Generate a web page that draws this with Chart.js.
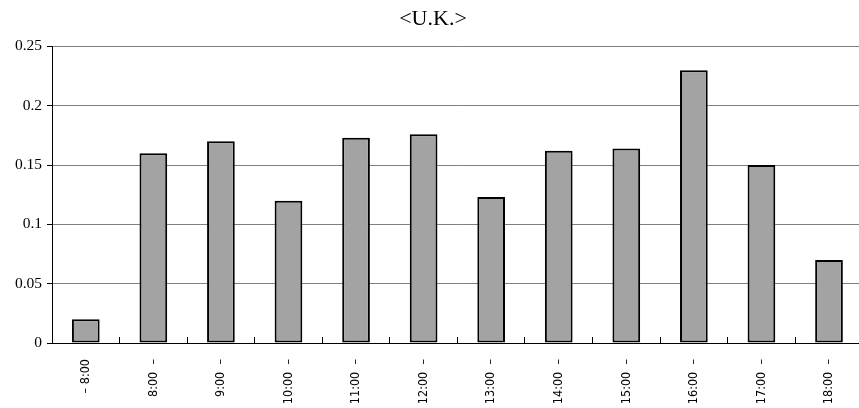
<!DOCTYPE html>
<html>
<head>
<meta charset="utf-8">
<script src="https://cdn.jsdelivr.net/npm/chart.js@4/dist/chart.umd.min.js"></script>
<style>
  html, body { margin: 0; padding: 0; background: #fff; }
  /* plot runs slightly past the right edge, so the frame clips it */
  .chart-container { position: relative; width: 859px; height: 408px; overflow: hidden; }
  .chart-container canvas { display: block; }
</style>
</head>
<body>
<div class="chart-container">
  <canvas id="chart" width="866" height="408"></canvas>
</div>
<script>
const hourLabels = ["\u2013 8:00", "8:00 \u00a0\u2013", "9:00 \u00a0\u2013", "10:00 \u00a0\u2013", "11:00 \u00a0\u2013", "12:00 \u00a0\u2013",
  "13:00 \u00a0\u2013", "14:00 \u00a0\u2013", "15:00 \u00a0\u2013", "16:00 \u00a0\u2013", "17:00 \u00a0\u2013", "18:00 \u00a0\u2013"];
const shareValues = [0.02, 0.16, 0.17, 0.12, 0.173, 0.176, 0.123, 0.162, 0.164, 0.23, 0.15, 0.07];
const yTicks = [0, 0.05, 0.1, 0.15, 0.2, 0.25];

const canvas = document.getElementById("chart");

const chart = new Chart(canvas, {
  type: "bar",
  data: {
    labels: hourLabels,
    datasets: [
      {
        label: "U.K.",
        data: shareValues,
        backgroundColor: "#a3a3a3",
        borderColor: "#000",
        borderWidth: 2,
        borderSkipped: false,
        barPercentage: 0.41,
        categoryPercentage: 1,
      },
    ],
  },
  options: {
    responsive: false,
    animation: false,
    layout: { padding: { left: 0, right: 0, top: 0, bottom: 0 } },
    scales: {
      x: {
        offset: true,
        afterFit: (scale) => {
          scale.height = 65;
        },
        grid: {
          offset: true,
          drawOnChartArea: false,
          drawTicks: true,
          tickLength: -6, // small marks point up into the plot
          color: "#000",
        },
        border: { color: "#000", width: 1 },
        ticks: {
          minRotation: 90,
          maxRotation: 90,
          autoSkip: false,
          padding: 22,
          color: "#000",
          font: { family: "'Liberation Sans Narrow', 'DejaVu Sans Condensed', sans-serif", size: 12.5 },
        },
      },
      y: {
        min: 0,
        max: 0.25,
        afterBuildTicks: (scale) => {
          scale.ticks = yTicks.map((v) => ({ value: v }));
        },
        afterFit: (scale) => {
          scale.width = 52;
        },
        grid: {
          color: "#808080",
          lineWidth: 1,
          drawTicks: true,
          tickLength: 5,
          tickColor: "#000",
        },
        border: { color: "#000", width: 1 },
        ticks: {
          padding: 5,
          color: "#000",
          font: { family: "'Liberation Serif', serif", size: 15.5 },
          callback: (v) => String(v),
        },
      },
    },
    plugins: {
      legend: { display: false },
      tooltip: { enabled: false },
      title: {
        display: true,
        text: "<U.K.>",
        color: "#000",
        font: { family: "'Liberation Serif', serif", size: 22, weight: "normal" },
        padding: { top: 6, bottom: 14 },
      },
    },
  },
});
canvas.chart = chart;
</script>
</body>
</html>
